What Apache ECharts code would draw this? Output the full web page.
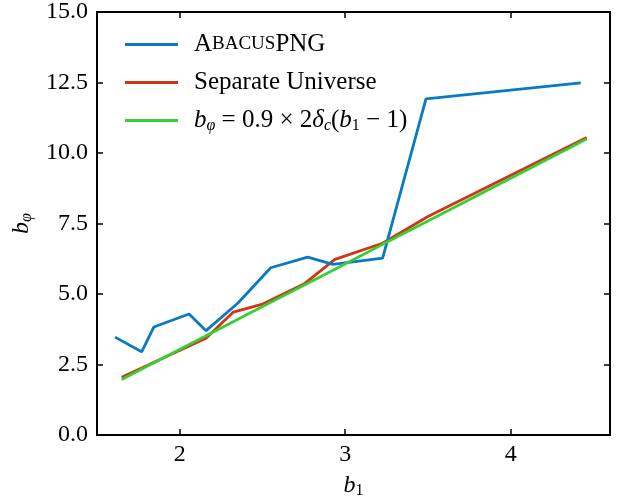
<!DOCTYPE html>
<html>
<head>
<meta charset="utf-8">
<script src="https://cdn.jsdelivr.net/npm/echarts@6/dist/echarts.min.js"></script>
<style>html,body{margin:0;padding:0;background:#fff}#c{width:622px;height:499px}</style>
</head>
<body>
<div id="c"></div>
<script>
// AbacusPNG measurements (b1, b_phi)
const abacusB1 = [1.609, 1.770, 1.844, 2.056, 2.159, 2.352, 2.550, 2.773, 2.926, 3.226, 3.488, 4.423];
const abacusBphi = [3.47, 2.95, 3.83, 4.29, 3.70, 4.68, 5.93, 6.31, 6.05, 6.27, 11.92, 12.49];
// Separate Universe
const suB1 = [1.649, 2.159, 2.324, 2.495, 2.75, 2.938, 3.226, 3.50, 4.459];
const suBphi = [2.05, 3.43, 4.36, 4.63, 5.35, 6.23, 6.80, 7.75, 10.55];
// Linear relation b_phi = 0.9 x 2 delta_c (b1 - 1)
const linB1 = [1.649, 2.159, 2.495, 2.938, 3.226, 3.50, 4.459];
const linBphi = [1.97, 3.52, 4.54, 5.88, 6.76, 7.59, 10.50];
const xTicks = [2, 3, 4];
const yTicks = [0, 2.5, 5, 7.5, 10, 12.5, 15];

const zip = (a, b) => a.map((v, i) => [v, b[i]]);
const FONT = 'Liberation Serif';
const FS = 24;
const chart = echarts.init(document.getElementById('c'), null, {renderer: 'canvas'});
const axisCommon = {
  axisLine: {show: true, onZero: false, lineStyle: {color: '#000', width: 2}},
  axisTick: {show: true, inside: true, length: 6, lineStyle: {color: '#000', width: 1.5}},
  splitLine: {show: false}
};
const subStyle = {fontFamily: FONT, fontSize: 16, fontStyle: 'italic', padding: [11, 0, 0, 0], color: '#000'};
const subStyleUp = {fontFamily: FONT, fontSize: 16, padding: [11, 0, 0, 0], color: '#000'};
chart.setOption({
  animation: false,
  backgroundColor: '#fff',
  grid: {left: 97, right: 12, top: 12, bottom: 64, outerBoundsMode: 'none', containLabel: false},
  xAxis: [
    Object.assign({}, axisCommon, {
      type: 'value', min: 1.5, max: 4.6, interval: 1, position: 'bottom',
      axisLabel: {
        color: '#000', fontFamily: FONT, fontSize: FS, margin: 8,
        customValues: xTicks, formatter: v => (xTicks.includes(v) ? String(v) : '')
      },
      axisTick: Object.assign({}, axisCommon.axisTick, {customValues: xTicks}),
      name: '{i|b}{s|1}', nameLocation: 'middle', nameGap: 37,
      nameTextStyle: {rich: {i: {fontFamily: FONT, fontSize: FS, fontStyle: 'italic', color: '#000'}, s: subStyleUp}}
    }),
    Object.assign({}, axisCommon, {
      type: 'value', min: 1.5, max: 4.6, position: 'top',
      axisLabel: {show: false},
      axisTick: Object.assign({}, axisCommon.axisTick, {customValues: xTicks})
    })
  ],
  yAxis: [
    Object.assign({}, axisCommon, {
      type: 'value', min: 0, max: 15, interval: 2.5, position: 'left',
      axisLabel: {color: '#000', fontFamily: FONT, fontSize: FS, margin: 9, formatter: v => v.toFixed(1)},
      name: '{i|b}{s|φ}', nameLocation: 'middle', nameGap: 59, nameRotate: 90,
      nameTextStyle: {rich: {i: {fontFamily: FONT, fontSize: FS, fontStyle: 'italic', color: '#000'}, s: subStyle}}
    }),
    Object.assign({}, axisCommon, {
      type: 'value', min: 0, max: 15, interval: 2.5, position: 'right',
      axisLabel: {show: false}
    })
  ],
  legend: {
    left: 120, top: 27, orient: 'vertical', itemGap: 13,
    itemWidth: 53, itemHeight: 3,
    icon: 'rect',
    data: ['AbacusPNG', 'Separate Universe', 'linear'],
    formatter: function (name) {
      if (name === 'AbacusPNG') return '{b|A}{sc|BACUS}{b|PNG}';
      if (name === 'Separate Universe') return '{b|Separate Universe}';
      return '{i|b}{s|φ}{b| = 0.9 × 2}{i|δ}{s|c}{b|(}{i|b}{su|1}{b| − 1)}';
    },
    textStyle: {
      padding: [0, 0, 0, 11],
      rich: {
        b: {fontFamily: FONT, fontSize: 25, color: '#000'},
        sc: {fontFamily: FONT, fontSize: 19, color: '#000'},
        i: {fontFamily: FONT, fontSize: 25, fontStyle: 'italic', color: '#000'},
        s: subStyle,
        su: subStyleUp
      }
    }
  },
  series: [
    {name: 'AbacusPNG', type: 'line', data: zip(abacusB1, abacusBphi), showSymbol: false, symbol: 'none',
     lineStyle: {color: '#0A79C3', width: 2.8}, itemStyle: {color: '#0A79C3'}, z: 3},
    {name: 'Separate Universe', type: 'line', data: zip(suB1, suBphi), showSymbol: false, symbol: 'none',
     lineStyle: {color: '#D23417', width: 2.8}, itemStyle: {color: '#D23417'}, z: 2},
    {name: 'linear', type: 'line', data: zip(linB1, linBphi), showSymbol: false, symbol: 'none',
     lineStyle: {color: '#36CF36', width: 2.8}, itemStyle: {color: '#36CF36'}, z: 4}
  ]
});
</script>
</body>
</html>
